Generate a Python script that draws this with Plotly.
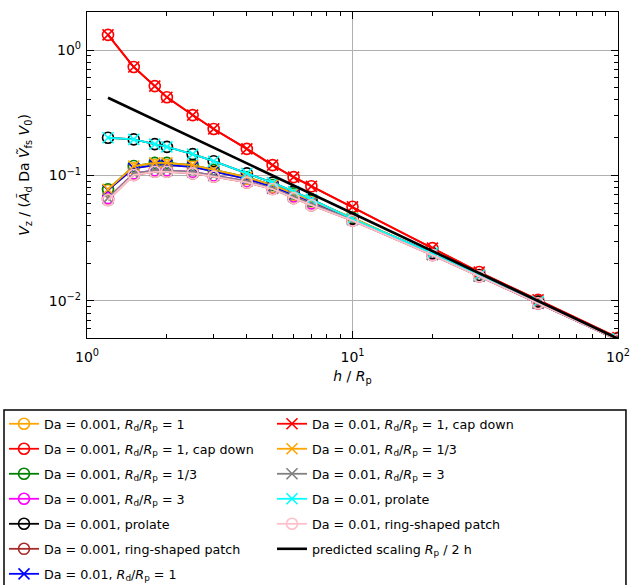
import plotly.graph_objects as go

h = [1.2, 1.5, 1.8, 2.0, 2.5, 3.0, 4.0, 5.0, 6.0, 7.0, 10.0, 20.0, 30.0, 50.0, 100.0]

v_rd1 = [0.0765, 0.114, 0.121, 0.121, 0.117, 0.108, 0.094, 0.081, 0.070, 0.062, 0.0452, 0.0236, 0.0159, 0.0096, 0.0049]
v_capdown = [1.32, 0.732, 0.516, 0.42, 0.303, 0.235, 0.163, 0.121, 0.097, 0.082, 0.0563, 0.0264, 0.0170, 0.0102, 0.0051]
v_rd13 = [0.0776, 0.119, 0.126, 0.126, 0.121, 0.111, 0.097, 0.084, 0.072, 0.063, 0.0460, 0.0238, 0.0160, 0.0097, 0.0049]
v_rd3 = [0.066, 0.104, 0.110, 0.110, 0.107, 0.100, 0.090, 0.079, 0.068, 0.060, 0.0445, 0.0234, 0.0158, 0.0096, 0.0049]
v_prolate = [0.200, 0.194, 0.178, 0.169, 0.148, 0.130, 0.104, 0.0877, 0.0745, 0.0645, 0.0452, 0.0241, 0.0161, 0.0099, 0.0050]
v_ring = [0.0638, 0.101, 0.107, 0.107, 0.104, 0.098, 0.088, 0.078, 0.066, 0.058, 0.0437, 0.0232, 0.0157, 0.0096, 0.0049]
v_pred = [0.4167, 0.3333, 0.2778, 0.25, 0.2, 0.1667, 0.125, 0.1, 0.0833, 0.0714, 0.05, 0.025, 0.0167, 0.01, 0.005]

RR = "<i>R</i><sub>d</sub>/<i>R</i><sub>p</sub> = "
series = [
    ("Da = 0.001, " + RR + "1", v_rd1, "#FFA500", "circle-open", "legend"),
    ("Da = 0.001, " + RR + "1, cap down", v_capdown, "#FF0000", "circle-open", "legend"),
    ("Da = 0.001, " + RR + "1/3", v_rd13, "#008000", "circle-open", "legend"),
    ("Da = 0.001, " + RR + "3", v_rd3, "#FF00FF", "circle-open", "legend"),
    ("Da = 0.001, prolate", v_prolate, "#000000", "circle-open", "legend"),
    ("Da = 0.001, ring-shaped patch", v_ring, "#A52A2A", "circle-open", "legend"),
    ("Da = 0.01, " + RR + "1", v_rd1, "#0000FF", "x-thin-open", "legend"),
    ("Da = 0.01, " + RR + "1, cap down", v_capdown, "#FF0000", "x-thin-open", "legend2"),
    ("Da = 0.01, " + RR + "1/3", v_rd13, "#FFA500", "x-thin-open", "legend2"),
    ("Da = 0.01, " + RR + "3", v_rd3, "#808080", "x-thin-open", "legend2"),
    ("Da = 0.01, prolate", v_prolate, "#00FFFF", "x-thin-open", "legend2"),
    ("Da = 0.01, ring-shaped patch", v_ring, "#FFC0CB", "circle-open", "legend2"),
]

fig = go.Figure()
for i, (name, vals, col, sym, lg) in enumerate(series):
    fig.add_trace(go.Scatter(
        x=h, y=vals, name=name, mode="lines+markers",
        line=dict(color=col, width=1.8),
        marker=dict(symbol=sym, size=11, color=col, line=dict(color=col, width=1.6)),
        legend=lg, legendgroup="g%d" % i,
    ))
fig.add_trace(go.Scatter(
    x=h, y=v_pred, name="predicted scaling <i>R</i><sub>p</sub> / 2 h", mode="lines",
    line=dict(color="#000000", width=2.6), legend="legend2", legendgroup="gp",
))

xminor = [2, 3, 4, 5, 6, 7, 8, 9, 20, 30, 40, 50, 60, 70, 80, 90]
yminor = [0.006, 0.007, 0.008, 0.009, 0.02, 0.03, 0.04, 0.05, 0.06, 0.07, 0.08, 0.09,
          0.2, 0.3, 0.4, 0.5, 0.6, 0.7, 0.8, 0.9, 2.0]

font = dict(family="DejaVu Sans", size=12.7, color="#000000")
axfont = dict(family="DejaVu Sans", size=14, color="#000000")
fig.update_layout(
    width=651, height=610,
    margin=dict(l=107, r=13, t=12, b=272),
    paper_bgcolor="white", plot_bgcolor="white",
    font=font,
    xaxis=dict(
        type="log", range=[0, 2], automargin=False,
        tickvals=[1, 10, 100], ticktext=["10<sup>0</sup>", "10<sup>1</sup>", "10<sup>2</sup>"],
        tickfont=axfont, ticklabelstandoff=6,
        ticks="inside", ticklen=7, tickwidth=1, tickcolor="#000",
        showline=True, linecolor="#000", linewidth=1.3, mirror="allticks",
        showgrid=True, gridcolor="#b0b0b0", gridwidth=1,
        minor=dict(tickvals=xminor, ticks="inside", ticklen=4, tickcolor="#000", showgrid=False),
        title=dict(text="<i>h</i> / <i>R</i><sub>p</sub>", standoff=7, font=axfont),
        zeroline=False,
    ),
    yaxis=dict(
        type="log", range=[-2.295, 0.303], automargin=False,
        tickvals=[0.01, 0.1, 1], ticktext=["10<sup>\u22122</sup>", "10<sup>\u22121</sup>", "10<sup>0</sup>"],
        tickfont=axfont, ticklabelstandoff=2,
        ticks="inside", ticklen=7, tickwidth=1, tickcolor="#000",
        showline=True, linecolor="#000", linewidth=1.3, mirror="allticks",
        showgrid=True, gridcolor="#b0b0b0", gridwidth=1,
        minor=dict(tickvals=yminor, ticks="inside", ticklen=4, tickcolor="#000", showgrid=False),
        title=dict(text="<i>V</i><sub>z</sub> / (<i>Ã</i><sub>d</sub> Da <i>Ṽ</i><sub>fs</sub> <i>V</i><sub>0</sub>)", standoff=15, font=axfont),
        zeroline=False,
    ),
    legend=dict(x=-0.1563, y=-0.2178, xanchor="left", yanchor="top", orientation="v",
                bgcolor="rgba(0,0,0,0)", borderwidth=0, tracegroupgap=5.5, itemwidth=30, font=font),
    legend2=dict(x=0.3484, y=-0.2178, xanchor="left", yanchor="top", orientation="v",
                 bgcolor="rgba(0,0,0,0)", borderwidth=0, tracegroupgap=5.5, itemwidth=30, font=font),
    shapes=[dict(type="rect", xref="paper", yref="paper",
                 x0=-0.1563, x1=1.015, y0=-0.85, y1=-0.2209,
                 line=dict(color="#000", width=1.5), fillcolor="rgba(0,0,0,0)")],
)

fig.write_html("out.html", config={"displayModeBar": False},
               post_script="document.body.style.margin='0px 0px 0px -20px';")
